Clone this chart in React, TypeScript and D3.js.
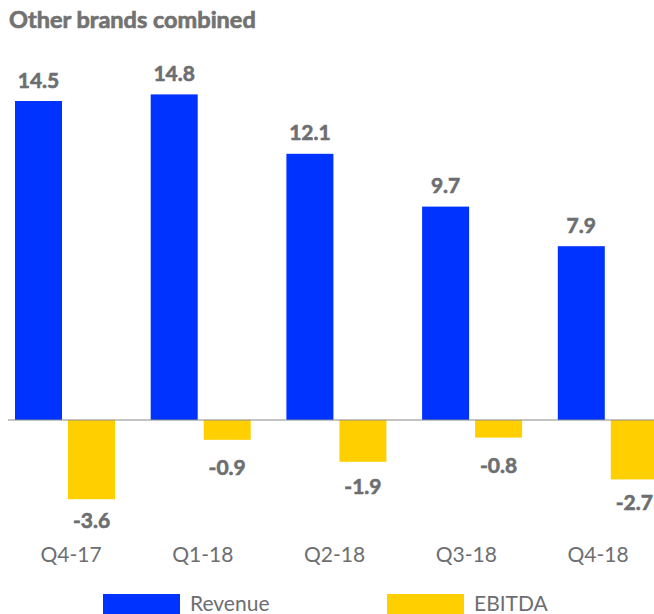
import React from "react";
import * as d3 from "d3";

const title = "Other brands combined";
const categories = ["Q4-17", "Q1-18", "Q2-18", "Q3-18", "Q4-18"];
const revenue = [14.5, 14.8, 12.1, 9.7, 7.9];
const ebitda = [-3.6, -0.9, -1.9, -0.8, -2.7];
const seriesNames = ["Revenue", "EBITDA"];
const colors = ["#0033ff", "#ffcf00"];

const W = 654;
const H = 614;
const textColor = "#6d6e71";
const font = "Lato, 'Open Sans', sans-serif";

export default function App() {
  const baseY = 420;
  const y = d3.scaleLinear().domain([0, 1]).range([baseY, baseY - 22]);
  const band = d3
    .scaleBand<string>()
    .domain(categories)
    .range([15, 15 + 135.7 * categories.length])
    .paddingInner(0)
    .paddingOuter(0);
  const barW = 47;
  const gap = 6;
  const xLabel = d3.scalePoint<string>().domain(categories).range([71, 598]);
  const negLabelY = d3.scaleLinear().domain([0, -3.6]).range([457, 528]);

  return (
    <svg
      width={W}
      height={H}
      style={{ position: "absolute", left: 0, top: 0, background: "#fff" }}
      fontFamily={font}
    >
      <text x={9} y={28} fontSize={23.5} fontWeight={700} fill="#727272" stroke="#727272" strokeWidth={0.7}>
        {title}
      </text>
      {categories.map((c, i) => {
        const x0 = band(c)!;
        const rv = revenue[i];
        const ev = ebitda[i];
        return (
          <g key={c}>
            <rect x={x0} y={y(rv)} width={barW} height={y(0) - y(rv)} fill={colors[0]} />
            <rect x={x0 + barW + gap} y={y(0)} width={barW} height={y(ev) - y(0)} fill={colors[1]} />
            <text
              x={x0 + barW / 2}
              y={y(rv) - 13.5}
              textAnchor="middle"
              fontSize={21}
              fontWeight={700}
              fill={textColor}
              stroke={textColor}
              strokeWidth={0.6}
            >
              {rv.toFixed(1)}
            </text>
            <text
              x={x0 + barW + gap + barW / 2}
              y={negLabelY(ev)}
              textAnchor="middle"
              fontSize={21}
              fontWeight={700}
              fill={textColor}
              stroke={textColor}
              strokeWidth={0.6}
            >
              {ev.toFixed(1)}
            </text>
            <text x={xLabel(c)} y={562} textAnchor="middle" fontSize={21} fill={textColor}>
              {c}
            </text>
          </g>
        );
      })}
      <line x1={8} x2={W} y1={baseY} y2={baseY} stroke="#8a8a8a" strokeWidth={1.2} />
      {seriesNames.map((s, i) => {
        const lx = i === 0 ? 103 : 387;
        return (
          <g key={s}>
            <rect x={lx} y={594} width={77} height={20} fill={colors[i]} />
            <text x={lx + 87} y={611} fontSize={21} fill={textColor}>
              {s}
            </text>
          </g>
        );
      })}
    </svg>
  );
}
